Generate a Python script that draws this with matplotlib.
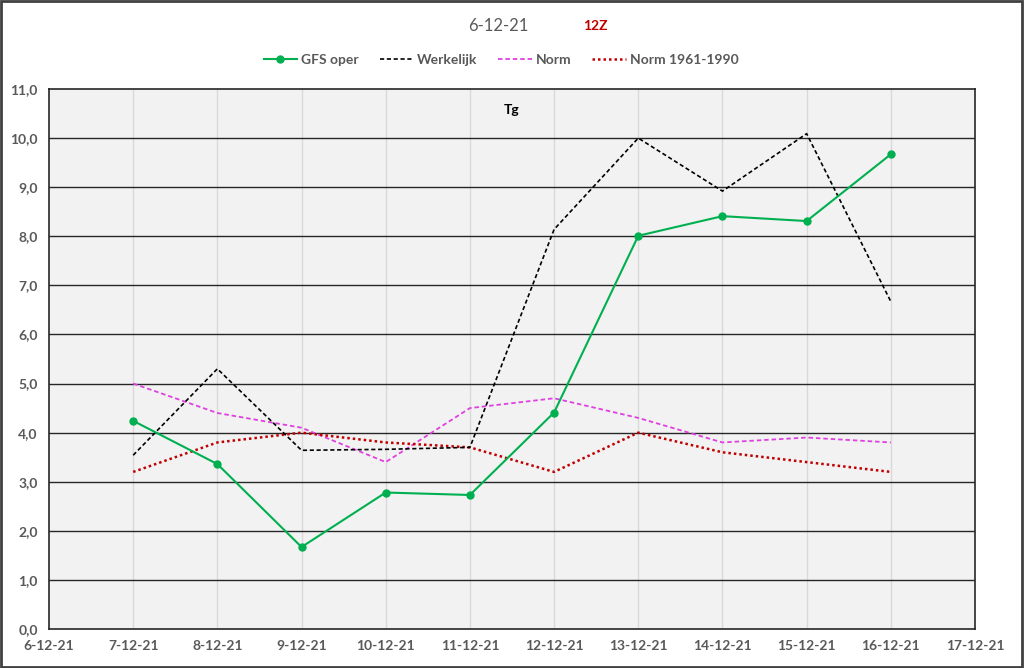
#!/usr/bin/env python3
import matplotlib
matplotlib.use('Agg')
import matplotlib.pyplot as plt
from matplotlib.patches import Rectangle

plt.rcParams['font.family'] = ['Lato', 'DejaVu Sans']

# dagen in december 2021
days = [7, 8, 9, 10, 11, 12, 13, 14, 15, 16]
tick_days = list(range(6, 18))
tick_labels = ['%d-12-21' % d for d in tick_days]

gfs_oper = [4.24, 3.36, 1.67, 2.78, 2.73, 4.41, 8.01, 8.41, 8.31, 9.67]
werkelijk = [3.54, 5.30, 3.64, 3.66, 3.70, 8.14, 10.0, 8.92, 10.09, 6.67]
norm = [5.0, 4.4, 4.1, 3.4, 4.5, 4.7, 4.3, 3.8, 3.9, 3.8]
norm_6190 = [3.2, 3.8, 4.0, 3.8, 3.7, 3.2, 4.0, 3.6, 3.4, 3.2]

grey = '#595959'

fig = plt.figure(figsize=(10.24, 6.68), dpi=100)
ax = fig.add_axes([49 / 1024, 1 - 629 / 668, (975 - 49) / 1024, (629 - 89) / 668])
ax.set_facecolor('#f2f2f2')

ax.plot(days, gfs_oper, color='#00b050', lw=1.5, marker='o', ms=5, label='GFS oper', zorder=5)
ax.plot(days, werkelijk, color='black', lw=1.2, ls=(0, (2.5, 1.6)), label='Werkelijk', zorder=4)
ax.plot(days, norm, color='#e040e0', lw=1.3, ls=(0, (2.5, 1.6)), label='Norm', zorder=3)
ax.plot(days, norm_6190, color='#c00000', lw=1.8, ls=(0, (1, 1.2)), label='Norm 1961-1990', zorder=3)

ax.set_xlim(6, 17)
ax.set_ylim(0, 11)
ax.set_xticks(tick_days)
ax.set_xticklabels(tick_labels)
ax.set_yticks(range(0, 12))
ax.set_yticklabels(['%d,0' % v for v in range(0, 12)])
ax.tick_params(length=0, pad=8, labelsize=10, labelcolor=grey)
for lbl in ax.get_xticklabels() + ax.get_yticklabels():
    lbl.set_fontweight('bold')

for v in range(1, 11):
    ax.axhline(v, color='#262626', lw=1.0, zorder=1)
for d in tick_days[1:-1]:
    ax.axvline(d, color='#d9d9d9', lw=1.0, zorder=0.5)
for s in ax.spines.values():
    s.set_color('#262626')
    s.set_linewidth(1.2)

ax.text(0.5, 0.962, 'Tg', transform=ax.transAxes, ha='center', va='center',
        fontsize=10, fontweight='bold', color='black')

fig.text(498 / 1024, 1 - 26 / 668, '6-12-21', ha='center', va='center', fontsize=12, color=grey)
fig.text(595 / 1024, 1 - 26 / 668, '12Z', ha='center', va='center', fontsize=10,
         fontweight='bold', color='#c00000')

leg = fig.legend(loc='center', bbox_to_anchor=(501 / 1024, 1 - 60 / 668), ncol=4,
                 frameon=False, fontsize=10, handlelength=2.4, columnspacing=1.5,
                 handletextpad=0.3)
for t in leg.get_texts():
    t.set_color(grey)
    t.set_fontweight('bold')

fig.patches.append(Rectangle((0.001, 0.002), 0.997, 0.996, transform=fig.transFigure,
                             fill=False, edgecolor='#404040', lw=2))

fig.savefig('out.png', dpi=100)
